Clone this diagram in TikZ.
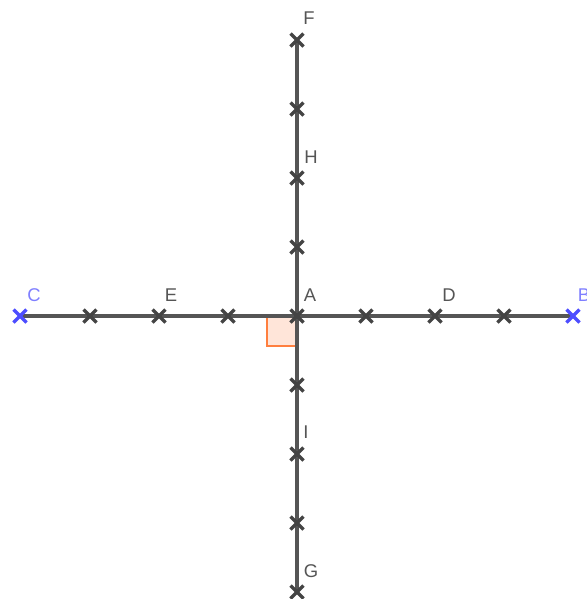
\documentclass[tikz,border=0pt]{standalone}
\usepackage{fontspec}
\setmainfont{Liberation Sans}
\usetikzlibrary{calc}

\definecolor{axisgray}{HTML}{555555}
\definecolor{crossgray}{HTML}{444444}
\definecolor{ptblue}{HTML}{4D4DFF}
\definecolor{lblblue}{HTML}{7F7FFF}
\definecolor{anglecol}{HTML}{FF7F3F}

% cross mark at a named point
\newcommand{\ptcross}[2][crossgray]{%
  \draw[#1,line width=2pt] ($(#2)+(-6.5,-6.5)$) -- ($(#2)+(6.5,6.5)$);
  \draw[#1,line width=2pt] ($(#2)+(-6.5,6.5)$) -- ($(#2)+(6.5,-6.5)$);
}

\tikzset{
  lbl/.style={text=axisgray,inner sep=0pt,font=\fontsize{10.5}{12}\selectfont},
  bluelbl/.style={lbl,text=lblblue},
  axis/.style={axisgray,line width=1.8pt}
}

\begin{document}
\begin{tikzpicture}[x=0.02cm,y=-0.02cm]
\useasboundingbox (0,0) rectangle (587,599);

% Points
\coordinate (A) at (297,316);
\coordinate (C) at (20,316);
\coordinate (B) at (573,316);
\coordinate (E) at (159,316);
\coordinate (D) at (435,316);
\coordinate (F) at (297,40);
\coordinate (H) at (297,178);
\coordinate (I) at (297,454);
\coordinate (G) at (297,592);

% Right angle at A
\filldraw[anglecol,fill=anglecol!20,line width=1.2pt] (A) rectangle ($(A)+(-30,30)$);

% Lines
\draw[axis] (C) -- (B);
\draw[axis] (F) -- (G);

% Unlabelled points
\foreach \x in {90,228,366,504} {
  \coordinate (p) at (\x,316);
  \ptcross{p}
}
\foreach \y in {109,247,385,523} {
  \coordinate (q) at (297,\y);
  \ptcross{q}
}

% Labelled points
\foreach \p in {A,E,D,F,H,I,G} {
  \ptcross{\p}
}
\ptcross[ptblue]{C}
\ptcross[ptblue]{B}

% Labels
\node[bluelbl] (labC) at (34,295) {C};
\node[bluelbl] (labB) at (584,295) {B};
\node[lbl] (labE) at (171,295) {E};
\node[lbl] (labA) at (310,295) {A};
\node[lbl] (labD) at (449,295) {D};
\node[lbl] (labF) at (309,18) {F};
\node[lbl] (labH) at (311,157) {H};
\node[lbl] (labI) at (306,432) {I};
\node[lbl] (labG) at (311,571) {G};

\end{tikzpicture}
\end{document}
